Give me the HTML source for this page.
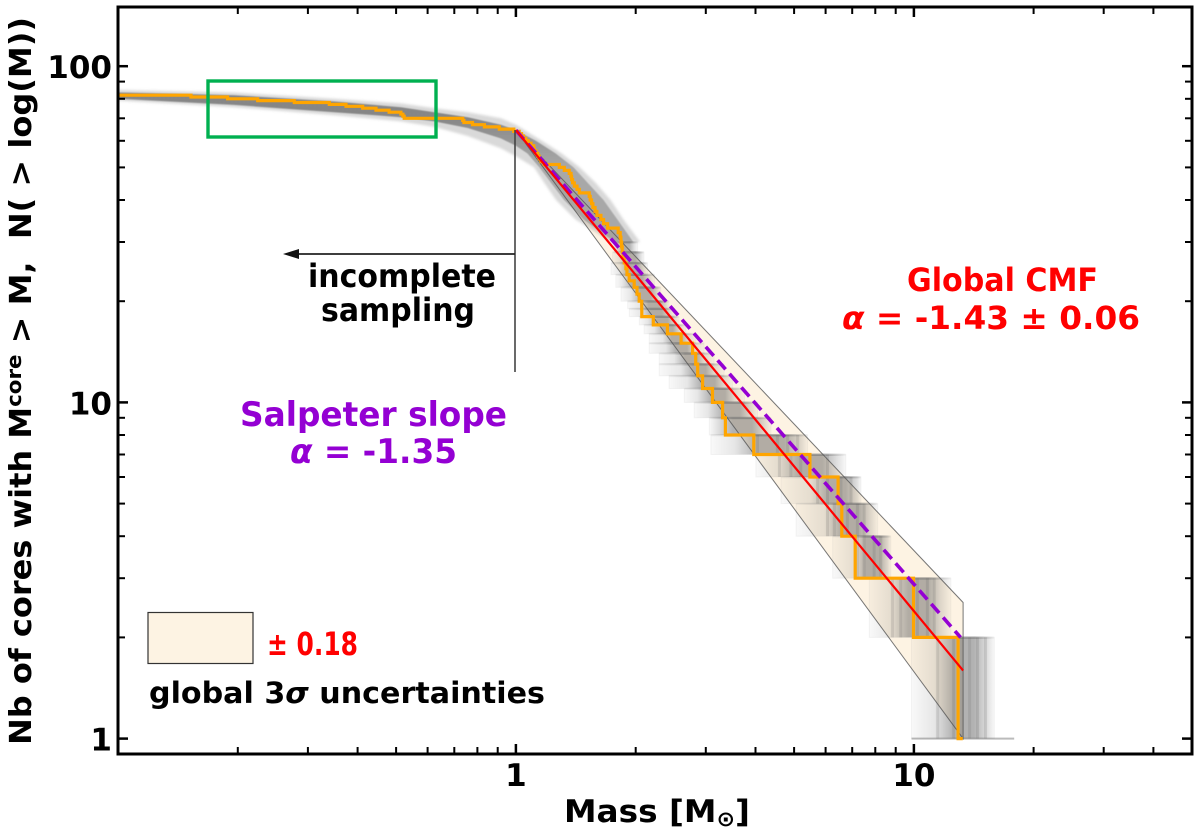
<!DOCTYPE html>
<html lang="en">
<head>
<meta charset="utf-8">
<title>Core mass function</title>
<style>
html,body{margin:0;padding:0;background:#fff;width:1200px;height:834px;overflow:hidden}
svg{display:block}
text{font-family:"DejaVu Sans","Liberation Sans",sans-serif;font-weight:700}
</style>
</head>
<body>
<svg id="chart" xmlns="http://www.w3.org/2000/svg" width="1200" height="834" viewBox="0 0 1200 834">
  <defs>
    <filter id="soft" x="-5%" y="-5%" width="110%" height="110%"><feGaussianBlur stdDeviation="1.4"/></filter>
    <filter id="softer" x="-5%" y="-5%" width="110%" height="110%"><feGaussianBlur stdDeviation="0.6"/></filter>
    <clipPath id="plot-clip"><rect x="118" y="7" width="1074" height="747"/></clipPath>
  </defs>
  <rect x="118" y="7" width="1074" height="747" fill="#fff"/>
  <g id="wedge-layer" clip-path="url(#plot-clip)"></g>
  <g id="ensemble-layer" clip-path="url(#plot-clip)"></g>
  <g id="wedge-edge-layer" clip-path="url(#plot-clip)"></g>
  <g id="line-layer" clip-path="url(#plot-clip)"></g>

  <rect x="208" y="81" width="228" height="56" fill="none" stroke="#00b050" stroke-width="3.4"/>
  <line x1="515" y1="130" x2="515" y2="372" stroke="#444" stroke-width="1.6"/>
  <line x1="515" y1="254" x2="295" y2="254" stroke="#222" stroke-width="1.8"/>
  <polygon points="283,254 299,249 299,259" fill="#111"/>

  <g id="axis-layer"></g>
  <rect x="118" y="7" width="1074" height="747" fill="none" stroke="#000" stroke-width="3"/>

  <text transform="translate(31,745) rotate(-90)" font-size="30" textLength="728" lengthAdjust="spacingAndGlyphs" fill="#000" xml:space="preserve">Nb of cores with M<tspan font-size="20" dy="-10">core</tspan><tspan dy="10"> &gt; M,  N( &gt; log(M))</tspan></text>
  <text x="564" y="822" font-size="31" textLength="186" lengthAdjust="spacingAndGlyphs" fill="#000">Mass [M<tspan font-size="21" dy="4">⊙</tspan><tspan dy="-4">]</tspan></text>

  <text x="907" y="291" font-size="32" textLength="191" lengthAdjust="spacingAndGlyphs" fill="#ff0000">Global CMF</text>
  <text x="842" y="329" font-size="32" textLength="298" lengthAdjust="spacingAndGlyphs" fill="#ff0000"><tspan font-style="italic">α</tspan> = -1.43 ± 0.06</text>
  <text x="308" y="287" font-size="32" textLength="188" lengthAdjust="spacingAndGlyphs" fill="#000">incomplete</text>
  <text x="321" y="321" font-size="32" textLength="154" lengthAdjust="spacingAndGlyphs" fill="#000">sampling</text>
  <text x="240" y="426" font-size="34" textLength="267" lengthAdjust="spacingAndGlyphs" fill="#9400d3">Salpeter slope</text>
  <text x="290" y="463" font-size="34" textLength="167" lengthAdjust="spacingAndGlyphs" fill="#9400d3"><tspan font-style="italic">α</tspan> = -1.35</text>

  <rect x="148" y="612.5" width="105" height="51" fill="#fdf3e3" stroke="#333" stroke-width="1.2"/>
  <text x="267" y="655" font-size="32" textLength="91" lengthAdjust="spacingAndGlyphs" fill="#ff0000">± 0.18</text>
  <text x="149" y="703" font-size="29" textLength="396" lengthAdjust="spacingAndGlyphs" fill="#000">global 3<tspan font-style="italic">σ</tspan> uncertainties</text>
</svg>

<script>
// ---------- observed cumulative mass function: mass at which each count level ends (N = 82 ... 1)
const orangeMasses = [
  0.1526,0.1886,0.2244,0.2773,0.3396,0.374,0.412,0.445,0.480,0.514,0.52,0.524,0.735,0.74,0.778,0.833,0.908,0.988,
  1.019,1.033,1.045,1.059,1.074,1.091,1.108,1.112,1.123,1.134,1.144,1.156,1.178,1.285,1.323,1.361,1.375,1.380,1.388,1.402,1.424,1.443,
  1.528,1.537,1.549,1.561,1.580,1.598,1.635,1.661,1.700,1.807,1.828,1.836,1.843,1.850,1.858,1.872,1.890,1.902,1.926,1.983,2.015,2.041,
  2.070,2.072,2.214,2.403,2.600,2.780,2.83,2.862,2.945,3.118,3.306,3.36,3.96,5.48,6.45,6.59,7.12,9.98,12.92,13.27
];
// ---------- power-law fits
const fitAnchorN = [64.5];
const fitEndMass = [13.3];
const globalSlope = [-1.43];
const slopeUncertainty = [0.18];
const salpeterSlope = [-1.35];
// ---------- resampled ensemble envelope above N = 30: log10(mass), N
const coreUpperLogM = [-1,-0.708,-0.456,-0.289,-0.205,-0.121,-0.038,0,0.050,0.100,0.145,0.180,0.220,0.255,0.295];
const coreUpperN    = [83.5,82,78.5,75.5,73,70.5,67,64.5,60,55,50,45,40,35,30];
const coreLowerLogM = [-1,-0.708,-0.456,-0.289,-0.205,-0.121,-0.038,0,0.029,0.059,0.088,0.121,0.170,0.248];
const coreLowerN    = [80,76.7,73,70.5,68.5,65.5,61,58,55,50,45,40,35,30];
const outerUpperLogM = [-1,-0.708,-0.456,-0.289,-0.205,-0.121,-0.038,0,0.065,0.115,0.160,0.200,0.238,0.270,0.312];
const outerUpperN    = [85,83.5,80,77.5,75,73,70,67,60,55,50,45,40,35,30];
const outerLowerLogM = [-1,-0.708,-0.456,-0.289,-0.205,-0.121,-0.038,0,0.046,0.071,0.101,0.150,0.240];
const outerLowerN    = [79,75.5,71.5,68.5,66,62,57,54,50,45,40,35,30];
// ---------- stepped rows of the ensemble below N = 30: count levels, spread in log10(mass)
const rowTopN    = [30,28,26,24,22,20,19,18,17,16,15,14,13,12,11,10,9,8,7,6,5,4,3,2];
const rowBottomN = [28,26,24,22,20,19,18,17,16,15,14,13,12,11,10,9,8,7,6,5,4,3,2,1];
const rowLogLow     = [0.247,0.243,0.239,0.251,0.264,0.281,0.285,0.310,0.322,0.335,0.335,0.360,0.360,0.385,0.423,0.448,0.486,0.490,0.603,0.666,0.704,0.796,0.888,0.994];
const rowLogCoreLow = [0.251,0.260,0.260,0.268,0.289,0.310,0.314,0.331,0.348,0.369,0.377,0.398,0.415,0.431,0.456,0.482,0.502,0.549,0.657,0.741,0.775,0.850,0.942,1.051];
const rowLogCoreHigh= [0.297,0.314,0.322,0.335,0.356,0.377,0.385,0.398,0.410,0.431,0.448,0.473,0.498,0.523,0.549,0.590,0.624,0.716,0.808,0.858,0.892,0.934,1.068,1.185];
const rowLogHigh    = [0.306,0.322,0.331,0.348,0.364,0.385,0.398,0.410,0.427,0.452,0.473,0.498,0.523,0.544,0.574,0.607,0.641,0.733,0.829,0.867,0.909,0.942,1.093,1.202];
const tailLogRange  = [0.994,1.252];
// ---------- individual darker resampled cores in the low-count rows
const streakRowTopN = [8,8,8,8,7,7,7,7,6,6,6,6,5,5,5,5,5,4,4,4,4,3,3,3,3,3,2,2,2,2,2,2];
const streakLogM    = [0.607,0.657,0.683,0.708,0.662,0.691,0.716,0.783,0.758,0.783,0.817,0.842,0.783,0.800,0.833,0.858,0.875,0.858,0.875,0.900,0.917,0.946,0.967,1.009,1.034,1.051,1.060,1.100,1.120,1.140,1.160,1.180];
// ---------- axes
const xDomain = [0.1,50];
const yDomain = [0.9,150];
const xMajorTicks = [1,10];
const xTickLabels = ['1','10'];
const xMinorTicks = [0.2,0.3,0.4,0.5,0.6,0.7,0.8,0.9,2,3,4,5,6,7,8,9,20,30,40];
const yMajorTicks = [1,10,100];
const yTickLabels = ['1','10','100'];
const yMinorTicks = [2,3,4,5,6,7,8,9,20,30,40,50,60,70,80,90];

const plotLeft = 118, plotRight = 1192, plotTop = 7, plotBottom = 754;
const NS = 'http://www.w3.org/2000/svg';
function xScale(m){
  return plotLeft + (Math.log10(m)-Math.log10(xDomain[0]))/(Math.log10(xDomain[1])-Math.log10(xDomain[0]))*(plotRight-plotLeft);
}
function yScale(n){
  return plotBottom - (Math.log10(n)-Math.log10(yDomain[0]))/(Math.log10(yDomain[1])-Math.log10(yDomain[0]))*(plotBottom-plotTop);
}
function xLog(l){ return xScale(Math.pow(10,l)); }
function make(tag, attrs, parent){
  const el = document.createElementNS(NS, tag);
  for (const k in attrs) el.setAttribute(k, attrs[k]);
  parent.appendChild(el);
  return el;
}
const defs = document.querySelector('#chart defs');
const wedgeLayer = document.getElementById('wedge-layer');
const wedgeEdgeLayer = document.getElementById('wedge-edge-layer');
const ensembleLayer = document.getElementById('ensemble-layer');
const lineLayer = document.getElementById('line-layer');
const axisLayer = document.getElementById('axis-layer');

function fitN(m, slope){ return fitAnchorN[0]*Math.pow(m, slope); }

// uncertainty wedge
const mEnd = fitEndMass[0];
const upperSlope = globalSlope[0] + slopeUncertainty[0];
const lowerSlope = globalSlope[0] - slopeUncertainty[0];
const wedgePoints = [[1,fitAnchorN[0]],[mEnd,fitN(mEnd,upperSlope)],[mEnd,fitN(mEnd,lowerSlope)]]
  .map(p => xScale(p[0]).toFixed(1)+','+yScale(p[1]).toFixed(1)).join(' ');
const wedge = make('polygon',{points:wedgePoints,fill:'#fdf3e3'},wedgeLayer);


const wedgeEdge = make('polygon',{points:wedgePoints,fill:'none',stroke:'#555','stroke-width':1,'stroke-opacity':0.8},wedgeEdgeLayer);



// ensemble envelope polygons
function envelope(upLog, upN, loLog, loN){
  const pts = [];
  upLog.forEach((l,i)=>pts.push(xLog(l).toFixed(1)+','+yScale(upN[i]).toFixed(1)));
  for (let i=loLog.length-1;i>=0;i--) pts.push(xLog(loLog[i]).toFixed(1)+','+yScale(loN[i]).toFixed(1));
  return pts.join(' ');
}
const coreFade = make('linearGradient',{id:'core-fade',gradientUnits:'userSpaceOnUse',x1:0,x2:0,y1:yScale(70).toFixed(1),y2:yScale(50).toFixed(1)},defs);
make('stop',{offset:0,'stop-color':'#808080','stop-opacity':0.92},coreFade);
make('stop',{offset:1,'stop-color':'#8a8a8a','stop-opacity':0.62},coreFade);
const outerBand = make('polygon',{points:envelope(outerUpperLogM,outerUpperN,outerLowerLogM,outerLowerN),fill:'#8a8a8a','fill-opacity':0.32,filter:'url(#soft)'},ensembleLayer);


const coreBand = make('polygon',{points:envelope(coreUpperLogM,coreUpperN,coreLowerLogM,coreLowerN),fill:'url(#core-fade)',filter:'url(#softer)'},ensembleLayer);



// stepped rows
rowTopN.forEach((n,i)=>{
  const x0 = xLog(rowLogLow[i]), x1 = xLog(rowLogHigh[i]);
  const c0 = xLog(rowLogCoreLow[i]), c1 = xLog(rowLogCoreHigh[i]);
  const w = x1-x0;
  const gid = 'row-grad-'+i;
  const g = make('linearGradient',{id:gid,x1:0,x2:1,y1:0,y2:0},defs);
  const a = (c0-x0)/w, b = (c1-x0)/w;
  const stops = [[0,0.04],[a,0.16],[a+(b-a)*0.35,0.5],[a+(b-a)*0.75,0.5],[b,0.2],[1,0.04]];
  stops.forEach(s=>make('stop',{offset:s[0].toFixed(3),'stop-color':'#666','stop-opacity':s[1]},g));
  const row = make('rect',{x:x0.toFixed(1),y:yScale(n).toFixed(1),width:w.toFixed(1),height:(yScale(rowBottomN[i])-yScale(n)).toFixed(1),fill:'url(#'+gid+')'},ensembleLayer);
  
  
  const level = make('rect',{x:x0.toFixed(1),y:(yScale(n)-1).toFixed(1),width:w.toFixed(1),height:2.4,fill:'url(#'+gid+')'},ensembleLayer);
  
  
  const edge = make('rect',{x:x0.toFixed(1),y:yScale(n).toFixed(1),width:w.toFixed(1),height:(yScale(rowBottomN[i])-yScale(n)).toFixed(1),fill:'none',stroke:'#999','stroke-opacity':0.1,'stroke-width':1},ensembleLayer);
  
  
});
streakLogM.forEach((l,i)=>{
  const top = streakRowTopN[i];
  const s = make('line',{x1:xLog(l).toFixed(1),x2:xLog(l).toFixed(1),y1:yScale(top).toFixed(1),y2:yScale(top-1).toFixed(1),stroke:'#555','stroke-opacity':0.16,'stroke-width':3},ensembleLayer);
  
  
});
const tail = make('rect',{x:xLog(tailLogRange[0]).toFixed(1),y:(yScale(1)-1).toFixed(1),width:(xLog(tailLogRange[1])-xLog(tailLogRange[0])).toFixed(1),height:2,fill:'#777','fill-opacity':0.5},ensembleLayer);



// observed step curve
let stepPath = 'M'+xScale(xDomain[0]).toFixed(1)+','+yScale(orangeMasses.length).toFixed(1);
orangeMasses.forEach((m,i)=>{
  const n = orangeMasses.length - i;
  stepPath += ' L'+xScale(m).toFixed(1)+','+yScale(n).toFixed(1);
  if (n>1) stepPath += ' L'+xScale(m).toFixed(1)+','+yScale(n-1).toFixed(1);
});
const steps = make('path',{d:stepPath,fill:'none',stroke:'#ffa500','stroke-width':3.2,'stroke-linejoin':'miter'},lineLayer);



// Salpeter and global fit lines
const salpeterEnd = Math.pow(2/fitAnchorN[0], 1/salpeterSlope[0]);
const salpeter = make('line',{x1:xScale(1),y1:yScale(fitAnchorN[0]),x2:xScale(salpeterEnd),y2:yScale(fitN(salpeterEnd,salpeterSlope[0])),stroke:'#9400d3','stroke-width':3.6,'stroke-dasharray':'12 6'},lineLayer);


const globalFit = make('line',{x1:xScale(1),y1:yScale(fitAnchorN[0]),x2:xScale(mEnd),y2:yScale(fitN(mEnd,globalSlope[0])),stroke:'#ff0000','stroke-width':2.2},lineLayer);



// ticks
function xTick(v, len, width, name){
  const px = xScale(v).toFixed(1);
  const b = make('line',{x1:px,x2:px,y1:plotBottom,y2:plotBottom-len,stroke:'#000','stroke-width':width},axisLayer);
  
  
  const t = make('line',{x1:px,x2:px,y1:plotTop,y2:plotTop+len,stroke:'#000','stroke-width':width},axisLayer);
  
  
}
function yTick(v, len, width, name){
  const py = yScale(v).toFixed(1);
  const l = make('line',{y1:py,y2:py,x1:plotLeft,x2:plotLeft+len,stroke:'#000','stroke-width':width},axisLayer);
  
  
  const r = make('line',{y1:py,y2:py,x1:plotRight,x2:plotRight-len,stroke:'#000','stroke-width':width},axisLayer);
  
  
}
xMinorTicks.forEach(v=>xTick(v,7,2,'x-minor-tick'));
xMajorTicks.forEach(v=>xTick(v,10,2.5,'x-major-tick'));
yMinorTicks.forEach(v=>yTick(v,7,2,'y-minor-tick'));
yMajorTicks.forEach(v=>yTick(v,10,2.5,'y-major-tick'));
xMajorTicks.forEach((v,i)=>{
  const t = make('text',{x:xScale(v).toFixed(1),y:786,'font-size':31,'text-anchor':'middle',fill:'#000'},axisLayer);
  t.textContent = xTickLabels[i];
  
  
});
yMajorTicks.forEach((v,i)=>{
  const t = make('text',{x:112,y:(yScale(v)+12).toFixed(1),'font-size':31,'text-anchor':'end',fill:'#000'},axisLayer);
  t.textContent = yTickLabels[i];
  
  
});
</script>
</body>
</html>
